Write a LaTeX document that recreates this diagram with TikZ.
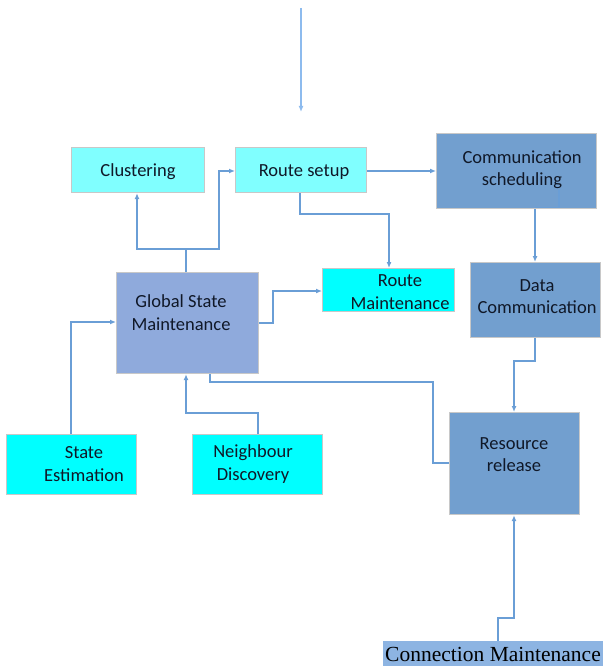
\documentclass[tikz,border=0pt]{standalone}
\usepackage{fontspec}
\setmainfont{Carlito}
\newfontfamily\serifcm{Liberation Serif}
\usetikzlibrary{arrows.meta}
\definecolor{lcyan}{HTML}{80FFFF}
\definecolor{fcyan}{HTML}{00FFFF}
\definecolor{gsmblue}{HTML}{8FAADC}
\definecolor{steel}{HTML}{729FCF}
\definecolor{cmblue}{HTML}{8DB4E2}
\definecolor{wire}{HTML}{6A9ED6}
\definecolor{topwire}{HTML}{8DBBEE}
\definecolor{edge}{HTML}{C8C8C8}
\definecolor{ink}{HTML}{101828}
\tikzset{
  box/.style={draw=edge, line width=1.2pt, inner sep=0pt, anchor=north west},
  lbl/.style={align=center, text=ink, font=\fontsize{18.5}{22.5}\selectfont, inner sep=0pt},
  wirel/.style={draw=wire, line width=1.3pt},
  arr/.style={wirel, -{Latex[length=6pt,width=5pt]}}
}
\begin{document}
\begin{tikzpicture}[x=1pt,y=1pt,yscale=-1]
\useasboundingbox (0,0) rectangle (603,668);
% boxes
\node[box, fill=lcyan, minimum width=133pt, minimum height=45pt] (clu) at (71,147) {};
\node[box, fill=lcyan, minimum width=131pt, minimum height=45pt] (rs) at (235,147) {};
\node[box, fill=steel, minimum width=160pt, minimum height=75pt] (cs) at (436,133) {};
\node[box, fill=fcyan, minimum width=132pt, minimum height=43pt] (rm) at (322,268) {};
\node[box, fill=steel, minimum width=130pt, minimum height=75pt] (dc) at (470,262) {};
\node[box, fill=gsmblue, minimum width=142pt, minimum height=101pt] (gsm) at (116,272) {};
\node[box, fill=fcyan, minimum width=130pt, minimum height=60pt] (se) at (6,434) {};
\node[box, fill=fcyan, minimum width=130pt, minimum height=60pt] (nd) at (192,434) {};
\node[box, fill=steel, minimum width=130pt, minimum height=102pt] (rr) at (449,412) {};
\node[anchor=north west, fill=cmblue, minimum width=220pt, minimum height=25pt, inner sep=0pt] (cm) at (383,641) {};
% labels
\node[lbl] (tclu) at (138,172) {Clustering};
\node[lbl] (trs) at (304,172) {Route setup};
\node[lbl] (tcs) at (522,169.5) {Communication\\scheduling};
\node[lbl] (trm) at (400,292) {Route\\Maintenance};
\node[lbl] (tdc) at (537,296.5) {Data\\Communication};
\node[lbl] (tgsm) at (181,312.5) {Global State\\Maintenance};
\node[lbl] (tse) at (84,464) {State\\Estimation};
\node[lbl] (tnd) at (253,464) {Neighbour\\Discovery};
\node[lbl] (trr) at (514,454.5) {Resource\\release};
\node[text=black, font=\serifcm\fontsize{21.5}{24}\selectfont, inner sep=0pt] (tcm) at (493,654) {Connection Maintenance};
% top arrow
\coordinate (top) at (301,8);
\coordinate (topend) at (301,112);
\draw[arr, draw=topwire, line width=2pt] (top) -- (topend);
% connectors
\draw[arr] (gsm.north -| 186,0) -- (186,249) -| (clu.south -| 137,0);
\draw[arr] (186,249) -- (219,249) |- (rs.west |- 0,171);
\draw[arr] (rs.east |- 0,171) -- (cs.west |- 0,171);
\draw[arr] (rs.south -| 300,0) -- (300,214) -| (rm.north -| 389,0);
\draw[wirel] (559,190) -- (559,207.5) -- (535,207.5);
\draw[arr] (cs.south -| 535,0) -- (dc.north -| 535,0);
\draw[arr] (gsm.east |- 0,323) -- (273,323) |- (rm.west |- 0,291);
\draw[arr] (se.north -| 71,0) -- (71,322) -- (gsm.west |- 0,322);
\draw[arr] (nd.north -| 258,0) -- (258,413) -| (gsm.south -| 186,0);
\draw[wirel] (rr.west |- 0,463) -- (433,463) |- (210,382) -- (gsm.south -| 210,0);
\draw[arr] (dc.south -| 535,0) -- (535,361) -| (rr.north -| 514,0);
\draw[arr] (cm.north -| 498,0) -- (498,618) -| (rr.south -| 514,0);
\end{tikzpicture}
\end{document}
